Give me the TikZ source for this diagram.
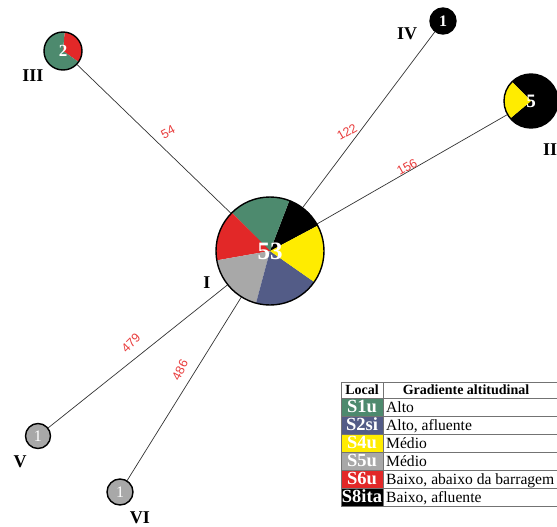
\documentclass[tikz,border=0pt]{standalone}
\usepackage{fontspec}
\setmainfont{Liberation Serif}
\newfontfamily\labfont{Liberation Sans}
\definecolor{cgreen}{RGB}{77,138,110}
\definecolor{cblue}{RGB}{83,92,135}
\definecolor{cyellow}{RGB}{255,236,0}
\definecolor{cgray}{RGB}{168,168,168}
\definecolor{cred}{RGB}{226,40,40}
\definecolor{clabel}{RGB}{232,60,60}
\pgfdeclarelayer{edges}
\pgfdeclarelayer{pies}
\pgfsetlayers{edges,pies,main}
\newcommand\myslice[5]{\fill[#1] (#2) -- ++(#3:#5) arc[start angle=#3, end angle=#4, radius=#5] -- cycle;}
\begin{document}
\begin{tikzpicture}[x=1pt,y=-1pt,
  hap/.style={circle, draw=black, line width=1.4pt, inner sep=0pt, text=white},
  link/.style={draw=black!80, line width=0.7pt},
  dist/.style={text=clabel, font=\labfont\fontsize{12.5}{12.5}\selectfont, inner sep=0pt},
  roman/.style={font=\bfseries\fontsize{18}{18}\selectfont, inner sep=0pt},
  gridline/.style={draw=black!55, line width=0.6pt},
  celltext/.style={text=white, font=\bfseries\fontsize{18.5}{18.5}\selectfont, inner sep=0pt, anchor=base},
  desctext/.style={font=\fontsize{15.6}{15.6}\selectfont, inner sep=0pt, anchor=base west},
  headtext/.style={font=\bfseries\fontsize{14}{14}\selectfont, inner sep=0pt, anchor=base}
]
\useasboundingbox (0,0) rectangle (557,527);

% haplotype nodes
\node[hap, minimum size=108pt, font=\bfseries\fontsize{25}{25}\selectfont] (nI) at (270,251) {53};
\node[hap, minimum size=54pt, font=\bfseries\fontsize{19}{19}\selectfont] (nII) at (531,101) {5};
\node[hap, minimum size=38pt, font=\bfseries\fontsize{17}{17}\selectfont] (nIII) at (63,51) {2};
\node[hap, minimum size=26pt, fill=black, font=\bfseries\fontsize{16}{16}\selectfont] (nIV) at (443,21) {1};
\node[hap, minimum size=25pt, fill=cgray, font=\fontsize{16}{16}\selectfont] (nV) at (38,436) {1};
\node[hap, minimum size=26pt, fill=cgray, font=\fontsize{16}{16}\selectfont] (nVI) at (120,492) {1};

% pie slices
\begin{pgfonlayer}{pies}
\myslice{black}{nI.center}{28}{69}{54pt}
\myslice{cgreen}{nI.center}{69}{135}{54pt}
\myslice{cred}{nI.center}{135}{190}{54pt}
\myslice{cgray}{nI.center}{190}{255}{54pt}
\myslice{cblue}{nI.center}{255}{325}{54pt}
\myslice{cyellow}{nI.center}{325}{388}{54pt}
\myslice{black}{nII.center}{-140}{135}{27pt}
\myslice{cyellow}{nII.center}{135}{220}{27pt}
\myslice{cred}{nIII.center}{-35}{85}{19pt}
\myslice{cgreen}{nIII.center}{85}{325}{19pt}
\end{pgfonlayer}

% connectors
\begin{pgfonlayer}{edges}
\draw[link] (nI.center) -- (nIII.center);
\draw[link] (nI.center) -- (nIV.center);
\draw[link] (nI.center) -- (nII.center);
\draw[link] (nI.center) -- (nV.center);
\draw[link] (nI.center) -- (nVI.center);
\end{pgfonlayer}

% distance labels
\node[dist, rotate=28] (d54) at (168,132) {54};
\node[dist, rotate=30] (d122) at (347,132) {122};
\node[dist, rotate=29] (d156) at (407,167) {156};
\node[dist, rotate=45] (d479) at (131,343) {479};
\node[dist, rotate=63] (d486) at (180,370) {486};

% roman labels
\node[roman] (lI) at (207,283) {I};
\node[roman, anchor=west] (lII) at (543,150) {II};
\node[roman] (lIII) at (33,76) {III};
\node[roman] (lIV) at (407,34) {IV};
\node[roman] (lV) at (20,462) {V};
\node[roman] (lVI) at (140,518) {VI};

% legend
\fill[cgreen] (341,398) rectangle (383,416);
\fill[cblue] (341,416) rectangle (383,434);
\fill[cyellow] (341,434) rectangle (383,452);
\fill[cgray] (341,452) rectangle (383,470);
\fill[cred] (341,470) rectangle (383,488);
\fill[black] (341,488) rectangle (383,506);
\foreach \yy in {382,398,416,434,452,470,488,506}
  \draw[gridline] (341,\yy) -- (560,\yy);
\draw[gridline] (341,382) -- (341,506);
\draw[gridline] (383,382) -- (383,506);
\draw[gridline] (560,382) -- (560,506);

\node[headtext] (hLocal) at (362,394) {Local};
\node[headtext] (hGrad) at (466,394) {Gradiente altitudinal};

\node[celltext] (c1) at (362,412) {S1u};
\node[celltext] (c2) at (362,430) {S2si};
\node[celltext] (c3) at (362,448) {S4u};
\node[celltext] (c4) at (362,466) {S5u};
\node[celltext] (c5) at (362,484) {S6u};
\node[celltext] (c6) at (362,502) {S8ita};

\node[desctext] (t1) at (386,412) {Alto};
\node[desctext] (t2) at (386,430) {Alto, afluente};
\node[desctext] (t3) at (386,448) {Médio};
\node[desctext] (t4) at (386,466) {Médio};
\node[desctext] (t5) at (386,484) {Baixo, abaixo da barragem};
\node[desctext] (t6) at (386,502) {Baixo, afluente};
\end{tikzpicture}
\end{document}
